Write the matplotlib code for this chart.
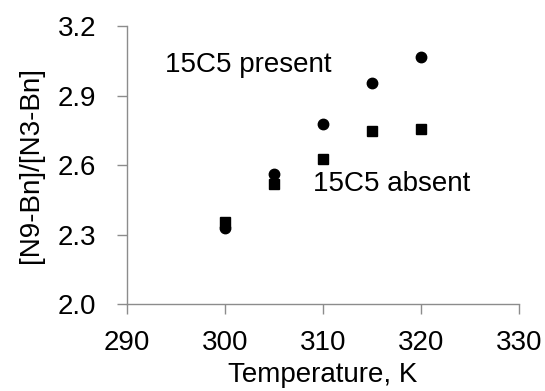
import matplotlib
matplotlib.use("Agg")
import matplotlib.pyplot as plt

# --- Data ---
temperature = [300, 305, 310, 315, 320]
ratio_present = [2.33, 2.56, 2.775, 2.955, 3.065]
ratio_absent = [2.355, 2.52, 2.625, 2.745, 2.755]

x_ticks = [290, 300, 310, 320, 330]
y_ticks = [2.0, 2.3, 2.6, 2.9, 3.2]

plt.rcParams.update(
    {
        "font.family": "Liberation Sans",
        "font.size": 20,
    }
)

fig = plt.figure(figsize=(5.45, 3.91), dpi=100)
ax = fig.add_axes([0.233, 0.2225, 0.719, 0.711])

ax.plot(temperature, ratio_present, "o", color="black", markersize=7.5, linestyle="none")
ax.plot(temperature, ratio_absent, "s", color="black", markersize=7, linestyle="none")

ax.text(293.9, 3.03, "15C5 present", fontsize=20, va="center", ha="left")
ax.text(309.0, 2.52, "15C5 absent", fontsize=20, va="center", ha="left")

ax.set_xlim(290, 330)
ax.set_ylim(2.0, 3.2)
ax.set_xticks(x_ticks)
ax.set_yticks(y_ticks)
ax.set_yticklabels([f"{v:.1f}" for v in y_ticks])

for side in ("top", "right"):
    ax.spines[side].set_visible(False)
for side in ("left", "bottom"):
    ax.spines[side].set_color("#8c8c8c")
    ax.spines[side].set_linewidth(1.0)
ax.tick_params(direction="out", length=7, width=1.0, color="#8c8c8c",
               labelsize=20)
ax.tick_params(axis="x", pad=12)
ax.tick_params(axis="y", pad=15)

ax.set_xlabel("Temperature, K", fontsize=20, labelpad=4)
ax.set_ylabel("[N9-Bn]/[N3-Bn]", fontsize=20, labelpad=10)

fig.savefig("out.png", dpi=100)
